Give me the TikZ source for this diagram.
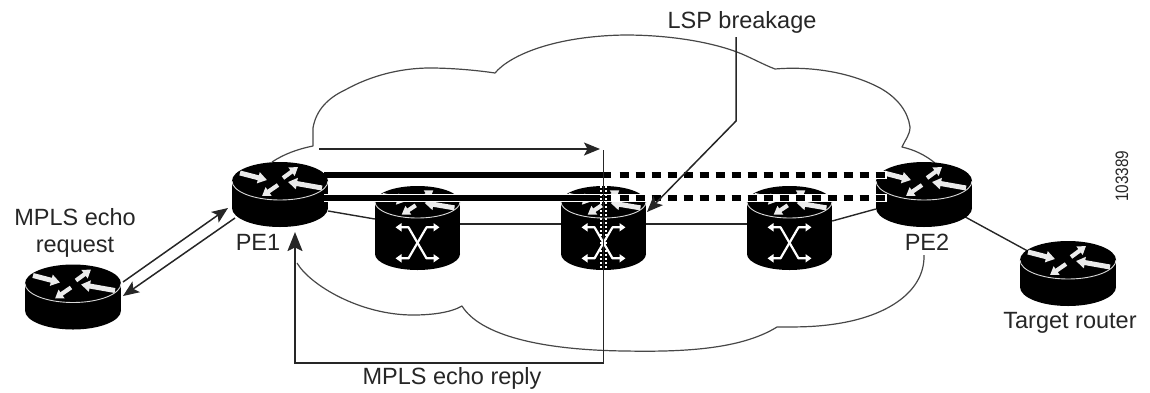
\documentclass[tikz,border=0pt]{standalone}
\usepackage{fontspec}
\setmainfont{Liberation Sans}
\usetikzlibrary{arrows.meta}
\definecolor{lineink}{gray}{0.15}
\definecolor{cloudink}{gray}{0.28}
\definecolor{textink}{gray}{0.15}
\newcommand{\devarrows}{%
  \draw[-{Triangle[length=9pt,width=11pt]},white!92!black,line width=5pt] (-40,-8) -- (-13,-1);
  \draw[-{Triangle[length=8pt,width=10pt]},white!92!black,line width=4.2pt] (3,-3) -- (18,-14);
  \draw[-{Triangle[length=9pt,width=11pt]},white!92!black,line width=5pt] (42,7) -- (8,1);
  \draw[-{Triangle[length=8pt,width=10pt]},white!92!black,line width=4.2pt] (-2,4) -- (-18,15);
}
% router icon: #1,#2 centre of top ellipse
\newcommand{\routericon}[2]{%
  \begin{scope}[shift={(#1,#2)}]
    \fill[black] (0,0) ellipse [x radius=48pt,y radius=19pt];
    \fill[black] (-48,0) rectangle (48,27);
    \fill[black] (0,27) ellipse [x radius=48pt,y radius=19pt];
    \devarrows
    \draw[white!85!black,line width=0.9pt] (-48,0) arc [start angle=180,end angle=360,x radius=48pt,y radius=19pt];
  \end{scope}}
% switch icon
\newcommand{\switchicon}[2]{%
  \begin{scope}[shift={(#1,#2)}]
    \fill[black] (0,0) ellipse [x radius=42.5pt,y radius=16pt];
    \fill[black] (-42.5,0) rectangle (42.5,52);
    \fill[black] (0,52) ellipse [x radius=42.5pt,y radius=16pt];
    \begin{scope}[xscale=.88,yscale=.84]\devarrows\end{scope}
    \draw[white!85!black,line width=0.9pt] (-42.5,0) arc [start angle=180,end angle=360,x radius=42.5pt,y radius=16pt];
    \draw[white,line width=2.2pt,{Triangle[length=6pt,width=8pt]}-{Triangle[length=6pt,width=8pt]},line join=round] (-22,25.3) -- (-9,25.3) -- (9,56.3) -- (22,56.3);
    \draw[white,line width=2.2pt,{Triangle[length=6pt,width=8pt]}-{Triangle[length=6pt,width=8pt]},line join=round] (-22,56.3) -- (-9,56.3) -- (9,25.3) -- (22,25.3);
  \end{scope}}
\tikzset{
  devbox/.style={rectangle,inner sep=0pt,minimum width=#1},
  routerbox/.style={devbox=96pt,minimum height=65pt},
  switchbox/.style={devbox=85pt,minimum height=84pt},
  lab/.style={inner sep=0pt,text=textink,align=center,font=\fontsize{23.5}{27}\selectfont},
  thinlink/.style={draw=lineink,line width=1.4pt},
  cloudline/.style={draw=cloudink,line width=1.2pt,line join=round},
  lsp/.style={black,line width=5.4pt},
  lsphalo/.style={white,line width=8pt},
  lspdash/.style={black,line width=5.4pt,dash pattern=on 9pt off 7pt},
  echo/.style={draw=lineink,line width=1.5pt,-{Stealth[length=16pt,width=13pt,inset=3.5pt]}},
  reply/.style={draw=lineink,line width=2pt,-{Stealth[length=19pt,width=15pt,inset=3.5pt]}}
}
\begin{document}
\begin{tikzpicture}[x=1pt,y=-1pt]
\useasboundingbox (0,0) rectangle (1150,392);
% cloud
\draw[cloudline] (272,162) .. controls (284,154) and (298,149) .. (313,146) -- (313,128)
  .. controls (316,110) and (328,98) .. (345,90) .. controls (370,76) and (400,68) .. (430,68)
  .. controls (450,68) and (475,70) .. (495,73)
  .. controls (510,55) and (555,36) .. (625,35) .. controls (670,35) and (710,42) .. (737,52)
  .. controls (750,57) and (762,64) .. (775,69)
  .. controls (810,66) and (850,72) .. (880,88) .. controls (898,98) and (908,112) .. (910,127)
  .. controls (910,135) and (905,140) .. (902,147) .. controls (915,150) and (925,155) .. (935,163);
\draw[cloudline] (297,263) .. controls (310,285) and (360,315) .. (413,315)
  .. controls (430,315) and (450,313) .. (462,306)
  .. controls (480,335) and (540,350) .. (625,351) .. controls (680,352) and (740,350) .. (777,327)
  .. controls (800,327) and (815,327) .. (835,324) .. controls (890,316) and (925,290) .. (924,255);
% device boxes
\node[routerbox] (src) at (73,297) {};
\node[routerbox] (pe1) at (280,194.5) {};
\node[routerbox] (pe2) at (924,194.5) {};
\node[routerbox] (tgt) at (1068,273) {};
\node[switchbox] (sw1) at (417.5,228) {};
\node[switchbox] (sw2) at (603.5,228) {};
\node[switchbox] (sw3) at (789.5,228) {};
% links
\draw[thinlink] ([yshift=-16.5pt]pe1.east) -- ([yshift=9pt]sw1.west);
\draw[thinlink] ([yshift=4pt]sw1.east) -- ([yshift=4pt]sw2.west);
\draw[thinlink] ([yshift=4pt]sw2.east) -- ([yshift=4pt]sw3.west);
\draw[thinlink] ([yshift=7pt]sw3.east) -- ([yshift=-14.5pt]pe2.west);
\draw[thinlink] (pe2.center) -- (tgt.center);
% icons
\routericon{73}{283.5}
\routericon{280}{181}
\routericon{924}{181}
\routericon{1068}{260}
\switchicon{417.5}{202}
\switchicon{603.5}{202}
\switchicon{789.5}{202}
% LSP lines
\coordinate (lspA1) at (324,175); \coordinate (lspA2) at (611,175);
\coordinate (lspB1) at (324,198); \coordinate (lspB2) at (611,198);
\coordinate (dashA1) at (619.5,175); \coordinate (dashA2) at (885,175);
\coordinate (dashB1) at (619.5,198); \coordinate (dashB2) at (885,198);
\draw[white,line width=7.4pt] (lspB1) -- (lspB2);
\draw[lsp] (lspA1) -- (lspA2);
\draw[lsp] (lspB1) -- (lspB2);
\draw[lsphalo] (lspA2) -- ([xshift=2pt]dashA2);
\draw[lsphalo] (lspB2) -- ([xshift=2pt]dashB2);
\draw[lspdash] (dashA1) -- (dashA2);
\draw[lspdash] (dashB1) -- (dashB2);
% forward arrow and reply path
\coordinate (fwdS) at (319,149); \coordinate (fwdE) at (600,149);
\draw[echo] (fwdS) -- (fwdE);
\coordinate (vTop) at (603.5,150); \coordinate (vBot) at (603.5,363); \coordinate (vLeft) at (295,363);
\coordinate (pe1under) at (295,232);
\draw[lineink,line width=1.8pt] (vTop) -- (vBot);
\draw[white,line width=1.1pt,dash pattern=on 2pt off 2pt] (601,186) -- (601,270);
\draw[white,line width=1.1pt,dash pattern=on 2pt off 2pt] (606,178) -- (606,270);
\draw[reply] (vBot) -- (vLeft) -- (pe1under);
% request arrows
\coordinate (req1S) at (123,282); \coordinate (req1E) at (228,208);
\coordinate (req2S) at (235,218); \coordinate (req2E) at (123,296);
\draw[echo] (req1S) -- (req1E);
\draw[echo] (req2S) -- (req2E);
% LSP breakage leader
\node[lab] (lspt) at (742,22) {LSP breakage};
\coordinate (lead1) at (736,37); \coordinate (lead2) at (736,121); \coordinate (lead3) at (647,212);
\draw[echo,line join=miter] (lead1) -- (lead2) -- (lead3);
% labels
\node[lab] (reqt) at (75,233) {MPLS echo\\request};
\node[lab] (pe1t) at (258,242) {PE1};
\node[lab] (pe2t) at (927,242) {PE2};
\node[lab] (tgtt) at (1070,323) {Target router};
\node[lab] (rept) at (452,378) {MPLS echo reply};
\node[inner sep=0pt,rotate=90,text=textink,font=\fontsize{18}{20}\selectfont] (numt) at (1122,176) {\scalebox{0.85}[1]{103389}};
\end{tikzpicture}
\end{document}
